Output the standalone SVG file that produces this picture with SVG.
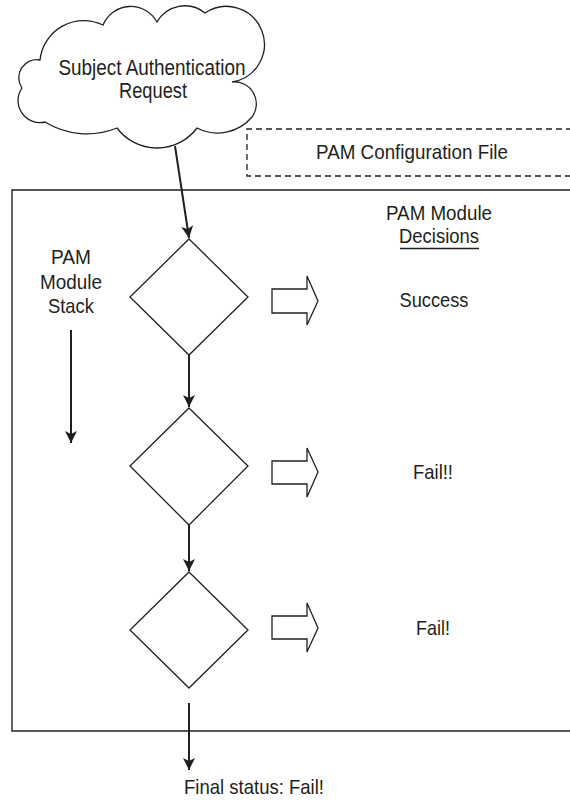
<svg xmlns="http://www.w3.org/2000/svg" width="570" height="800" viewBox="0 0 570 800">
<defs>
<style>
.t{font-family:"Liberation Sans",Arial,sans-serif;font-size:21px;fill:#231f20;text-anchor:middle}
.big{font-size:22px}
.sh{fill:#fff;stroke:#231f20;stroke-width:1.3}
.frame{fill:none;stroke:#231f20;stroke-width:1.4}
.dash{fill:none;stroke:#231f20;stroke-width:1.3;stroke-dasharray:6 4}
.con{fill:none;stroke:#231f20;stroke-width:2}
</style>
<marker id="ah" viewBox="0 0 12 12" refX="12" refY="6" markerWidth="12" markerHeight="12" markerUnits="userSpaceOnUse" orient="auto">
<path d="M0,0 L12,6 L0,12 L3,6 Z" fill="#231f20"/>
</marker>
</defs>
<rect width="570" height="800" fill="#fff"/>

<g id="pam-module-frame">
<path class="frame" d="M572,190 H12 V731 H572"/>
</g>

<g id="config-file">
<path class="dash" d="M572,129 H247 V176 H572"/>
<text class="t" x="412" y="159" textLength="192" lengthAdjust="spacingAndGlyphs">PAM Configuration File</text>
</g>

<g id="cloud-request">
<path class="sh" d="M40,60 A44,44 0 0 1 103,25 A30,30 0 0 1 157,22 A32,32 0 0 1 205,13 A38,38 0 1 1 232,82 A22,22 0 0 1 252,117 A45,45 0 0 1 197,128 A50,50 0 0 1 117,128 A80,80 0 0 1 45,122 A22,22 0 0 1 22,88 A18,18 0 0 1 40,60 Z"/>
<text class="t big" x="152" y="75" textLength="187" lengthAdjust="spacingAndGlyphs">Subject Authentication</text>
<text class="t big" x="153" y="98" textLength="68" lengthAdjust="spacingAndGlyphs">Request</text>
</g>

<g id="decisions-label">
<text class="t" x="439" y="220" textLength="106" lengthAdjust="spacingAndGlyphs">PAM Module</text>
<text class="t" x="439" y="243" textLength="80" lengthAdjust="spacingAndGlyphs">Decisions</text>
<line x1="400" y1="248.5" x2="479" y2="248.5" stroke="#231f20" stroke-width="1.4"/>
</g>

<g id="stack-label">
<text class="t" x="71" y="264" textLength="40" lengthAdjust="spacingAndGlyphs">PAM</text>
<text class="t" x="71" y="289" textLength="62" lengthAdjust="spacingAndGlyphs">Module</text>
<text class="t" x="71" y="313" textLength="46" lengthAdjust="spacingAndGlyphs">Stack</text>
</g>

<g id="decision-1">
<path class="sh" d="M189,239 L248,297 L189,355 L130,297 Z"/>
</g>
<g id="decision-2">
<path class="sh" d="M189,408 L248,466 L189,525 L130,466 Z"/>
</g>
<g id="decision-3">
<path class="sh" d="M189,572 L248,630 L189,688 L130,630 Z"/>
</g>

<g id="result-arrows">
<path class="sh" d="M272,289 H307 V276 L318,301 L307,325 V313 H272 Z"/>
<path class="sh" d="M272,461 H307 V448 L318,472 L307,497 V484 H272 Z"/>
<path class="sh" d="M272,616 H307 V603 L318,628 L307,652 V639 H272 Z"/>
</g>

<g id="result-success"><text class="t" x="434" y="307" textLength="69" lengthAdjust="spacingAndGlyphs">Success</text></g>
<g id="result-fail-2"><text class="t" x="433" y="479" textLength="40" lengthAdjust="spacingAndGlyphs">Fail!!</text></g>
<g id="result-fail-3"><text class="t" x="433" y="635" textLength="34" lengthAdjust="spacingAndGlyphs">Fail!</text></g>
<g id="final-status"><text class="t" x="254" y="794" textLength="140" lengthAdjust="spacingAndGlyphs">Final status: Fail!</text></g>

<g id="connectors">
<line class="con" x1="175" y1="146" x2="189" y2="238" marker-end="url(#ah)"/>
<line class="con" x1="189" y1="355" x2="189" y2="407" marker-end="url(#ah)"/>
<line class="con" x1="189" y1="525" x2="189" y2="571" marker-end="url(#ah)"/>
<line class="con" x1="189" y1="703" x2="189" y2="770" marker-end="url(#ah)"/>
<line class="con" x1="71" y1="330" x2="71" y2="443" marker-end="url(#ah)"/>
</g>
</svg>
